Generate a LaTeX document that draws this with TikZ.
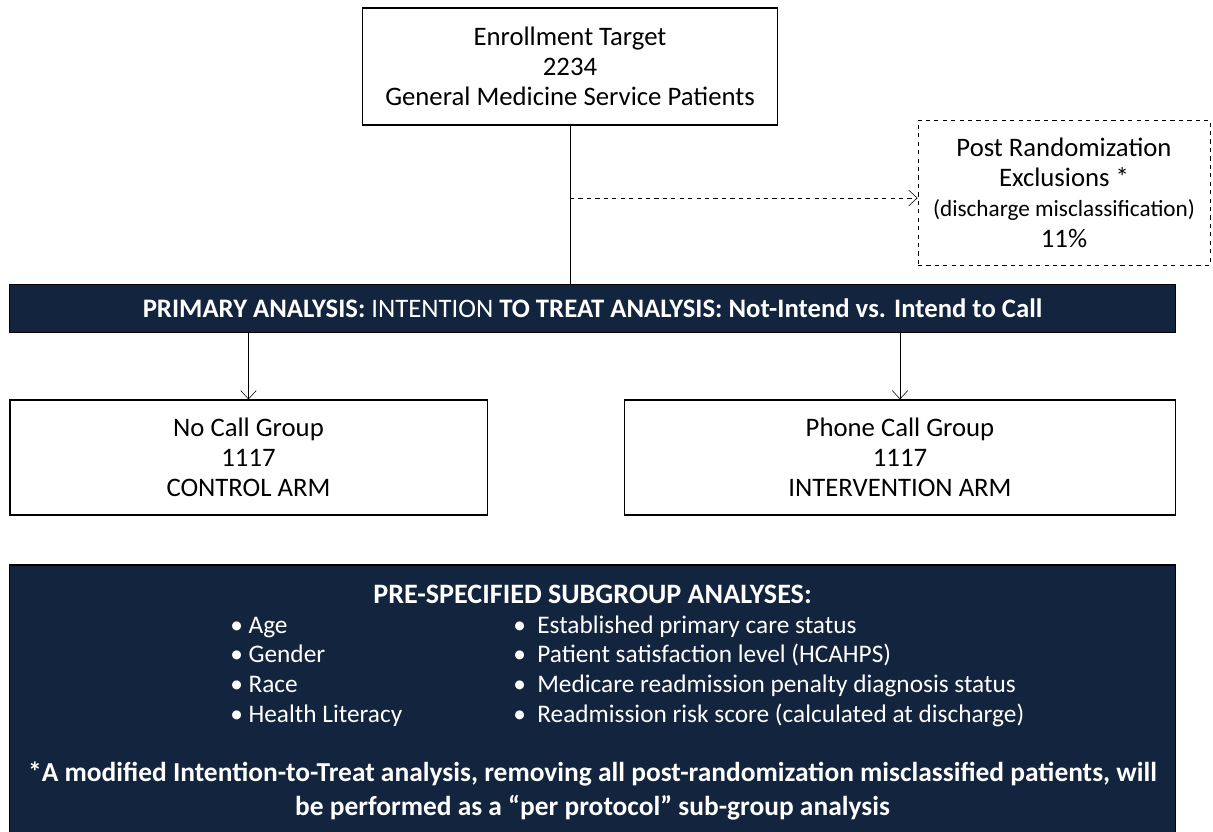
\documentclass[tikz,border=0pt]{standalone}
\usepackage{fontspec}
\setmainfont{Carlito}
\usepackage{xcolor}
\usepackage{tikz}
\usetikzlibrary{arrows.meta,positioning,calc}

\definecolor{navy}{RGB}{18,36,62}

\tikzset{
    box/.style={draw, thick, minimum width=#1, align=center, inner sep=0pt},
    bar/.style={draw, thick, fill=navy, text=white, inner sep=0pt},
    tip/.style={-{Straight Barb[length=6pt,width=11pt]}},
    bul/.style={anchor=base west, text=white, inner sep=0pt, font=\fontsize{18}{21}\selectfont},
}

\begin{document}
\begin{tikzpicture}[x=0.025cm, y=-0.025cm, font=\fontsize{19}{21.5}\selectfont]
    \useasboundingbox (0,0) rectangle (1213,831);

    % top of the chart
    \node[box=10.375cm, minimum height=2.925cm] (target) at (570,66.5) {Enrollment Target\\2234\\General Medicine Service Patients};
    \node[box=7.3cm, minimum height=3.625cm, dashed, thin] (excl) at (1064,192.5) {Post Randomization\\Exclusions *\\{\fontsize{16.5}{21.5}\selectfont (discharge misclassification)}\\11\%};

    % primary analysis bar
    \node[bar, minimum width=29.125cm, minimum height=1.2cm] (primary) at (592.5,308.5) {\textbf{PRIMARY ANALYSIS:} INTENTION \textbf{TO TREAT ANALYSIS: Not-Intend vs. Intend to Call}};

    % the two arms
    \node[box=11.925cm, minimum height=2.875cm] (nocall) at (248.5,457.5) {No Call Group\\1117\\CONTROL ARM};
    \node[box=13.75cm, minimum height=2.875cm] (phone) at (900,457.5) {Phone Call Group\\1117\\INTERVENTION ARM};

    \coordinate (split) at (target.south |- 0,198);
    \draw (target.south) -- (target.south |- primary.north);
    \draw[dashed, tip] (split) -- (split -| excl.west);
    \draw[tip] (primary.south -| nocall.north) -- (nocall.north);
    \draw[tip] (primary.south -| phone.north) -- (phone.north);

    % subgroup box
    \node[bar, minimum width=29.125cm, minimum height=6.75cm] (sub) at (592.5,700) {};
    \node[text=white, inner sep=0pt, font=\fontsize{20}{21}\selectfont\bfseries] (subtitle) at (592.5,594) {PRE-SPECIFIED SUBGROUP ANALYSES:};
    \node[bul] (age) at (230,633) {\textbullet\ Age};
    \node[bul] (gender) at (230,662) {\textbullet\ Gender};
    \node[bul] (race) at (230,692) {\textbullet\ Race};
    \node[bul] (literacy) at (230,722) {\textbullet\ Health Literacy};
    \node[bul] (primcare) at (513,633) {\textbullet\ \ Established primary care status};
    \node[bul] (satis) at (513,662) {\textbullet\ \ Patient satisfaction level (HCAHPS)};
    \node[bul] (penalty) at (513,692) {\textbullet\ \ Medicare readmission penalty diagnosis status};
    \node[bul] (risk) at (513,722) {\textbullet\ \ Readmission risk score (calculated at discharge)};
    \node[text=white, align=center, inner sep=0pt, font=\fontsize{19.5}{23.5}\selectfont\bfseries] (note) at (592.5,791) {*A modified Intention-to-Treat analysis, removing all post-randomization misclassified patients, will\\be performed as a ``per protocol'' sub-group analysis};
\end{tikzpicture}
\end{document}
